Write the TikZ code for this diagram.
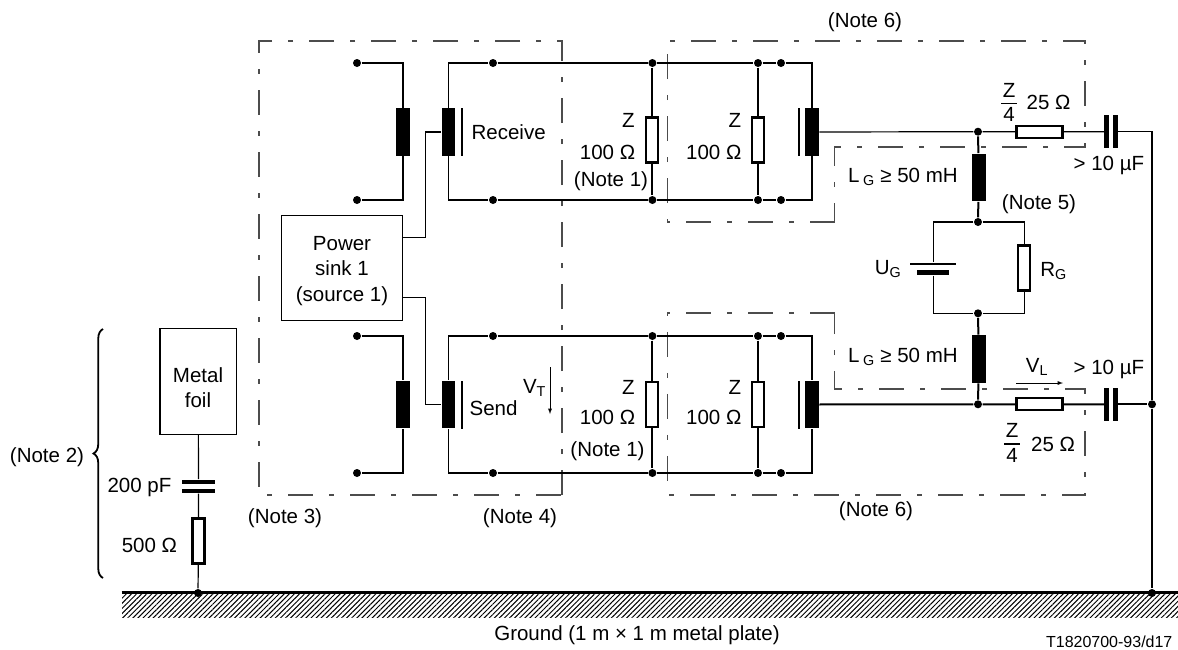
\documentclass[tikz,border=0pt]{standalone}
\usepackage{fontspec}
\setmainfont{Liberation Sans}
\usetikzlibrary{patterns.meta,decorations.pathreplacing}
\tikzset{
  lbl/.style={inner sep=0pt,font=\fontsize{20.5}{25.5}\selectfont,align=center},
  dotn/.style={circle,fill=black,minimum size=8pt,inner sep=0pt},
  coiln/.style={fill=black,minimum width=13.5pt,minimum height=47.5pt,inner sep=0pt},
  barn/.style={fill=black,minimum width=2pt,minimum height=48pt,inner sep=0pt},
  resn/.style={draw,line width=2.1pt,fill=white,minimum width=12pt,minimum height=45pt,inner sep=0pt},
  resh/.style={draw,line width=2.1pt,fill=white,minimum width=46pt,minimum height=12pt,inner sep=0pt},
  capv/.style={fill=black,minimum width=4.8pt,minimum height=33pt,inner sep=0pt},
  caph/.style={fill=black,minimum width=33pt,minimum height=4pt,inner sep=0pt},
  boxn/.style={draw,line width=1.2pt,inner sep=0pt},
  dashbox/.style={line width=1.1pt,black!70,dash pattern=on 25pt off 16pt on 5pt off 16pt},
  bold/.style={line width=2pt}
}
\begin{document}
\begin{tikzpicture}[x=1pt,y=-1pt,line width=1.2pt]
\useasboundingbox (0,0) rectangle (1178,649);

\draw[dashbox] (562,495) -- (562,41) -- (259,41) -- (259,495) -- (562,495);
\draw[dashbox] (834.6,222) -- (667.5,222) -- (667.5,41) -- (1085,41) -- (1085,147) -- (834.6,147) -- (834.6,222);
\draw[dashbox] (834.6,313) -- (667.5,313) -- (667.5,495) -- (1085,495) -- (1085,389) -- (834.6,389) -- (834.6,313);

\foreach \row/\ty/\cy/\by/\zy in {up/63/132/200/140, lo/336/404.5/473/404.5} {
  \node[dotn] (dLt\row) at (357,\ty) {};
  \node[dotn] (dLb\row) at (357,\by) {};
  \node[coiln] (coilA\row) at (403,\cy) {};
  \node[coiln] (coilB\row) at (448.5,\cy) {};
  \node[barn] (barB\row) at (461.7,\cy) {};
  \node[dotn] (dAt\row) at (493,\ty) {};
  \node[dotn] (dAb\row) at (493,\by) {};
  \node[dotn] (dBt\row) at (652.4,\ty) {};
  \node[dotn] (dBb\row) at (652.4,\by) {};
  \node[dotn] (dCt\row) at (758,\ty) {};
  \node[dotn] (dCb\row) at (758,\by) {};
  \node[dotn] (dDt\row) at (781,\ty) {};
  \node[dotn] (dDb\row) at (781,\by) {};
  \node[resn] (resA\row) at (652.4,\zy) {};
  \node[resn] (resB\row) at (758,\zy) {};
  \node[coiln] (coilC\row) at (812,\cy) {};
  \node[barn] (barC\row) at (799,\cy) {};
  \draw (dLt\row) -| (coilA\row.north);
  \draw (coilA\row.south) |- (dLb\row);
  \draw (coilB\row.north) |- (dAt\row) -- (dBt\row) -- (dCt\row) -- (dDt\row) -| (coilC\row.north);
  \draw (coilB\row.south) |- (dAb\row) -- (dBb\row) -- (dCb\row) -- (dDb\row) -| (coilC\row.south);
  \draw[bold] (dBt\row) -- (resA\row) -- (dBb\row);
  \draw[bold] (dCt\row) -- (resB\row) -- (dCb\row);
}

\node[boxn,minimum width=121pt,minimum height=105pt] (power) at (342.2,268.3) {};
\node[lbl] (powerTxt) at (342,271) {Power\\sink 1\\(source 1)};
\coordinate (pwA) at (402.7,237.7);
\coordinate (pwB) at (425.7,132);
\coordinate (pwC) at (402.7,297.3);
\coordinate (pwD) at (425.7,404.5);
\draw (pwA) -| (pwB) -- (coilBup);
\draw (pwC) -| (pwD) -- (coilBlo);

\node[dotn] (jT) at (978,131.7) {};
\node[dotn] (jB) at (978,404.3) {};
\node[coiln] (coilGa) at (978.8,177.5) {};
\node[coiln] (coilGb) at (978.8,359) {};
\node[dotn] (dP) at (978,222) {};
\node[dotn] (dQ) at (978,313.3) {};
\node[resh] (resQup) at (1039.5,131.7) {};
\node[resh] (resQlo) at (1039.5,404.3) {};
\node[capv] (capAup) at (1106.8,131.7) {};
\node[capv] (capBup) at (1115.2,131.7) {};
\node[capv] (capAlo) at (1106.8,404.3) {};
\node[capv] (capBlo) at (1115.2,404.3) {};
\coordinate (cT) at (1152,131.7);
\node[dotn] (dG) at (1152,404.3) {};
\node[fill=black,minimum width=46pt,minimum height=2pt,inner sep=0pt] (battL) at (933.4,263.7) {};
\node[fill=black,minimum width=32pt,minimum height=4.5pt,inner sep=0pt] (battS) at (933.4,272.7) {};
\node[resn] (resG) at (1024.4,268) {};

\draw (coilCup) -- (jT) -- (resQup) -- (capAup);
\draw (capBup) -- (cT) -- (dG);
\draw[bold] (coilClo) -- (jB) -- (resQlo) -- (capAlo);
\draw[bold] (capBlo) -- (dG);
\draw[bold] (jT) -- (coilGa) -- (dP);
\draw[bold] (dQ) -- (coilGb) -- (jB);
\draw (dP) -| (battL.north);
\draw (battS.south) |- (dQ);
\draw (dP) -| (resG.north);
\draw (resG.south) |- (dQ);

\node[minimum width=1056pt,minimum height=24pt,inner sep=0pt,pattern={Lines[angle=45,distance=3.6pt,line width=1pt]}] (ground) at (650,605) {};
\draw[line width=3pt] (ground.north west) -- (ground.north east);
\node[dotn] (dE) at (1152,593) {};
\node[dotn] (dF) at (198,593) {};
\draw (dG) -- (dE);

\node[boxn,minimum width=76.5pt,minimum height=105.6pt] (foil) at (198.2,381.5) {};
\node[lbl] (foilTxt) at (198,387.5) {Metal\\foil};
\node[caph] (capFa) at (198.5,481.7) {};
\node[caph] (capFb) at (198.5,491) {};
\node[resn] (resF) at (198.5,541) {};
\draw (foil) -- (capFa);
\draw (capFb) -- (resF) -- (dF);

\coordinate (brB) at (103,578);
\coordinate (brT) at (103,329);
\draw[line width=1.8pt,decorate,decoration={brace,amplitude=9.5pt,aspect=.5}] (brB) -- (brT);

\node[lbl] (note2) at (47,457) {(Note 2)};
\node[lbl] (note3) at (285,517.7) {(Note 3)};
\node[lbl] (note4) at (520,517.7) {(Note 4)};
\node[lbl] (note1a) at (611,181) {(Note 1)};
\node[lbl] (note1b) at (607.5,450.7) {(Note 1)};
\node[lbl] (note5) at (1039,204) {(Note 5)};
\node[lbl] (note6a) at (865,22) {(Note 6)};
\node[lbl] (note6b) at (876,510.7) {(Note 6)};
\node[lbl,anchor=west] (recv) at (471,132) {Receive};
\node[lbl,anchor=west] (send) at (469,407.7) {Send};
\node[lbl] (vT) at (534.5,388) {V\textsubscript{T}};
\coordinate (vtA) at (550,367);
\coordinate (vtB) at (550,414);
\draw[line width=.9pt,-latex] (vtA) -- (vtB);
\node[lbl] (vL) at (1037,367) {V\textsubscript{L}};
\coordinate (vlA) at (1016,383);
\coordinate (vlB) at (1063,383);
\draw[line width=.9pt,-latex] (vlA) -- (vlB);

\node[lbl] (zA) at (628.5,120) {Z};
\node[lbl,anchor=east] (ohmA) at (635.7,152) {100 Ω};
\node[lbl] (zB) at (735,120) {Z};
\node[lbl,anchor=east] (ohmB) at (742,152) {100 Ω};
\node[lbl] (zC) at (628.5,387) {Z};
\node[lbl,anchor=east] (ohmC) at (635.7,417) {100 Ω};
\node[lbl] (zD) at (735,387) {Z};
\node[lbl,anchor=east] (ohmD) at (742,417) {100 Ω};

\node[lbl] (fracAt) at (1009,90) {Z};
\node[lbl] (fracAb) at (1009,114) {4};
\node[fill=black,minimum width=15.5pt,minimum height=1.6pt,inner sep=0pt] (fracAm) at (1009,103.5) {};
\node[lbl,anchor=west] (ohmE) at (1026,102) {25 Ω};
\node[lbl] (fracBt) at (1012,430.5) {Z};
\node[lbl] (fracBb) at (1012,455) {4};
\node[fill=black,minimum width=15.5pt,minimum height=1.6pt,inner sep=0pt] (fracBm) at (1012,444) {};
\node[lbl,anchor=west] (ohmF) at (1030.5,444) {25 Ω};
\node[lbl,anchor=west] (farA) at (1073,165) {> 10 µF};
\node[lbl,anchor=west] (farB) at (1073,369) {> 10 µF};
\node[lbl,anchor=west] (lgA) at (847.6,177) {L\,\textsubscript{G} ≥ 50 mH};
\node[lbl,anchor=west] (lgB) at (847.6,357) {L\,\textsubscript{G} ≥ 50 mH};
\node[lbl] (uG) at (888,269) {U\textsubscript{G}};
\node[lbl] (rG) at (1053.5,271) {R\textsubscript{G}};
\node[lbl,anchor=east] (cap200) at (172,487) {200 pF};
\node[lbl,anchor=east] (ohm500) at (177.6,545) {500 Ω};
\node[lbl] (groundTxt) at (637,635) {Ground (1 m × 1 m metal plate)};
\node[inner sep=0pt,font=\fontsize{16}{19}\selectfont,anchor=east] (tag) at (1173,641.7) {T1820700-93/d17};
\end{tikzpicture}
\end{document}
